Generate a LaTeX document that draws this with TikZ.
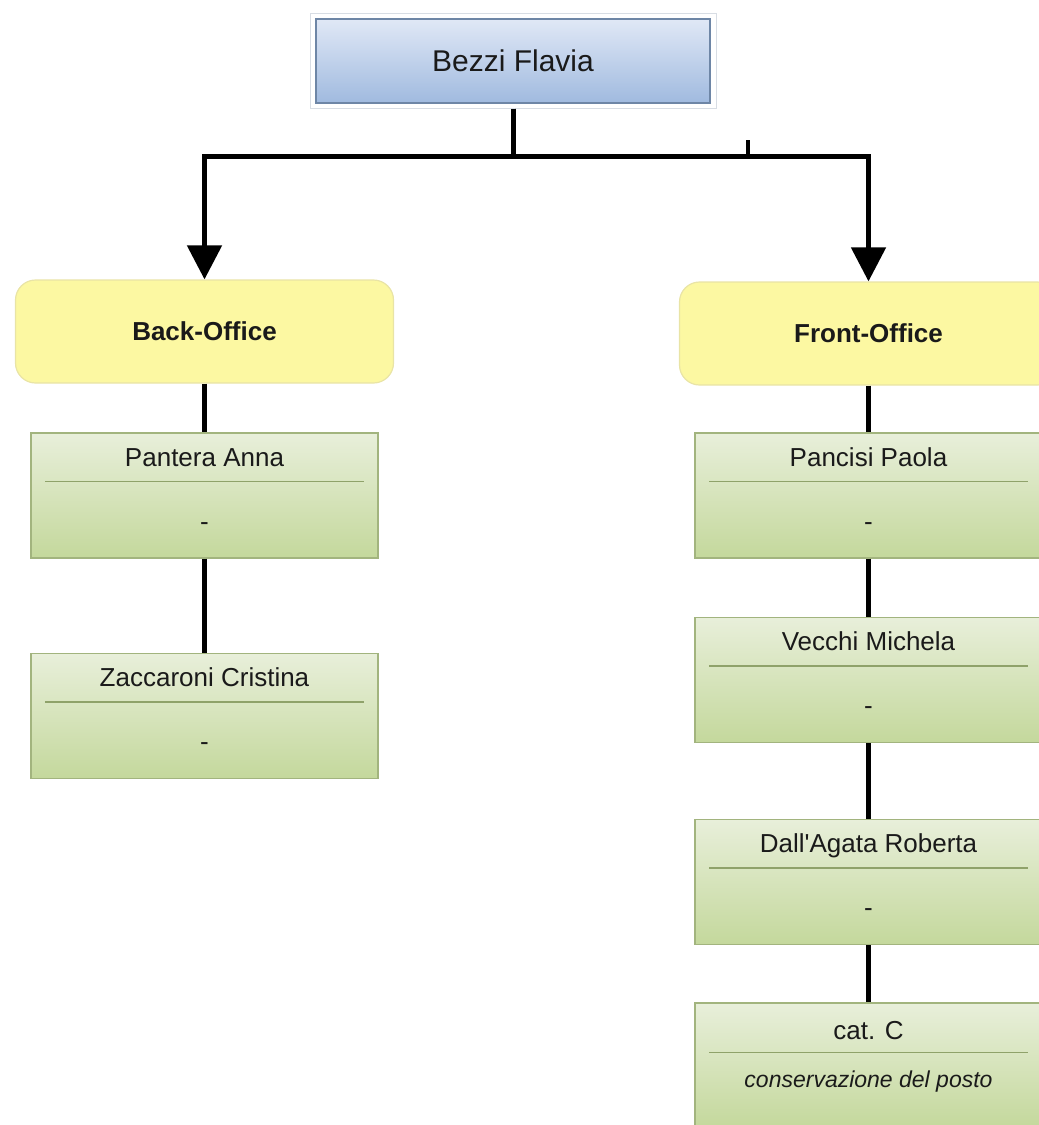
\documentclass[tikz,border=0pt]{standalone}
\usepackage{fontspec}
\setmainfont{Liberation Sans}
\usetikzlibrary{arrows.meta,calc}

\definecolor{headtop}{HTML}{E0E8F6}
\definecolor{headbot}{HTML}{A0BADF}
\definecolor{headline}{HTML}{6E86A6}
\definecolor{frameline}{HTML}{D8DDE4}
\definecolor{unitfill}{HTML}{FCF8A2}
\definecolor{unitline}{HTML}{E9E4A6}
\definecolor{stafftop}{HTML}{E8EFDA}
\definecolor{staffbot}{HTML}{C4D89C}
\definecolor{staffline}{HTML}{A2B47E}
\definecolor{sepline}{HTML}{8FA26A}
\definecolor{ink}{HTML}{1A1A1A}

\begin{document}
\begin{tikzpicture}[x=1pt,y=-1pt,
  headframe/.style={draw=frameline, line width=1pt, fill=white,
    minimum width=406pt, minimum height=95pt, inner sep=0pt},
  headbox/.style={draw=headline, line width=1.5pt, top color=headtop, bottom color=headbot,
    minimum width=394pt, minimum height=84pt, inner sep=0pt,
    text=ink, font=\fontsize{30}{34}\selectfont},
  unitbox/.style={draw=unitline, line width=1.2pt, fill=unitfill, rounded corners=20pt,
    minimum width=378pt, minimum height=103pt, inner sep=0pt,
    text=ink, font=\bfseries\fontsize{26}{30}\selectfont},
  staffbox/.style={draw=staffline, line width=1.4pt, top color=stafftop, bottom color=staffbot,
    minimum width=347pt, minimum height=125pt, inner sep=0pt},
  stafftext/.style={anchor=base, inner sep=0pt, text=ink, font=\fontsize{26}{30}\selectfont},
  notetext/.style={anchor=base, inner sep=0pt, text=ink, font=\itshape\fontsize{23}{27}\selectfont},
  divider/.style={draw=sepline, line width=1.6pt},
  conn/.style={draw=black, line width=5pt},
  tip/.style={-{Triangle[length=34pt,width=34pt]}}
]
\useasboundingbox (0,0) rectangle (1039,1125);
\clip (0,0) rectangle (1039,1125);

% head of the office
\node[headframe] (frame) at (513,60.5) {};
\node[headbox] (head) at (513,61) {Bezzi Flavia};

% the two units
\node[unitbox] (back) at (204.5,331.5) {Back-Office};
\node[unitbox] (front) at (868.5,333.5) {Front-Office};

% staff boxes: name, divider, role
\node[staffbox] (pa) at (204.5,495.5) {};
\node[staffbox] (zc) at (204.5,716) {};
\node[staffbox] (pp) at (868.5,495.5) {};
\node[staffbox] (vm) at (868.5,680) {};
\node[staffbox] (dr) at (868.5,882) {};
\node[staffbox] (cc) at (868.5,1065.5) {};

\foreach \b/\name in {pa/Pantera Anna, zc/Zaccaroni Cristina, pp/Pancisi Paola,
                      vm/Vecchi Michela, dr/Dall\textquotesingle Agata Roberta}{
  \node[stafftext] (\b-name) at ($(\b.north)+(0,34)$) {\name};
  \draw[divider] ($(\b.north west)+(15,49)$) -- ($(\b.north east)+(-15,49)$);
  \node[stafftext] (\b-role) at ($(\b.north)+(0,98)$) {-};
}
\node[stafftext] (cc-name) at ($(cc.north)+(0,37)$) {cat. C};
\draw[divider] ($(cc.north west)+(15,50)$) -- ($(cc.north east)+(-15,50)$);
\node[notetext] (cc-role) at ($(cc.north)+(0,85)$) {conservazione del posto};

% connectors from the head to the units
\draw[conn,tip] (frame.south) -- ++(0,48) -| (back.north);
\draw[conn,tip] (frame.south) -- ++(0,48) -| (front.north);
\coordinate (stub) at (748,140);
\draw[conn,line width=4pt] (stub) -- ++(0,16);

% chains inside each unit
\draw[conn] (back.south) -- (pa.north);
\draw[conn] (pa.south) -- (zc.north);
\draw[conn] (front.south) -- (pp.north);
\draw[conn] (pp.south) -- (vm.north);
\draw[conn] (vm.south) -- (dr.north);
\draw[conn] (dr.south) -- (cc.north);
\end{tikzpicture}
\end{document}
